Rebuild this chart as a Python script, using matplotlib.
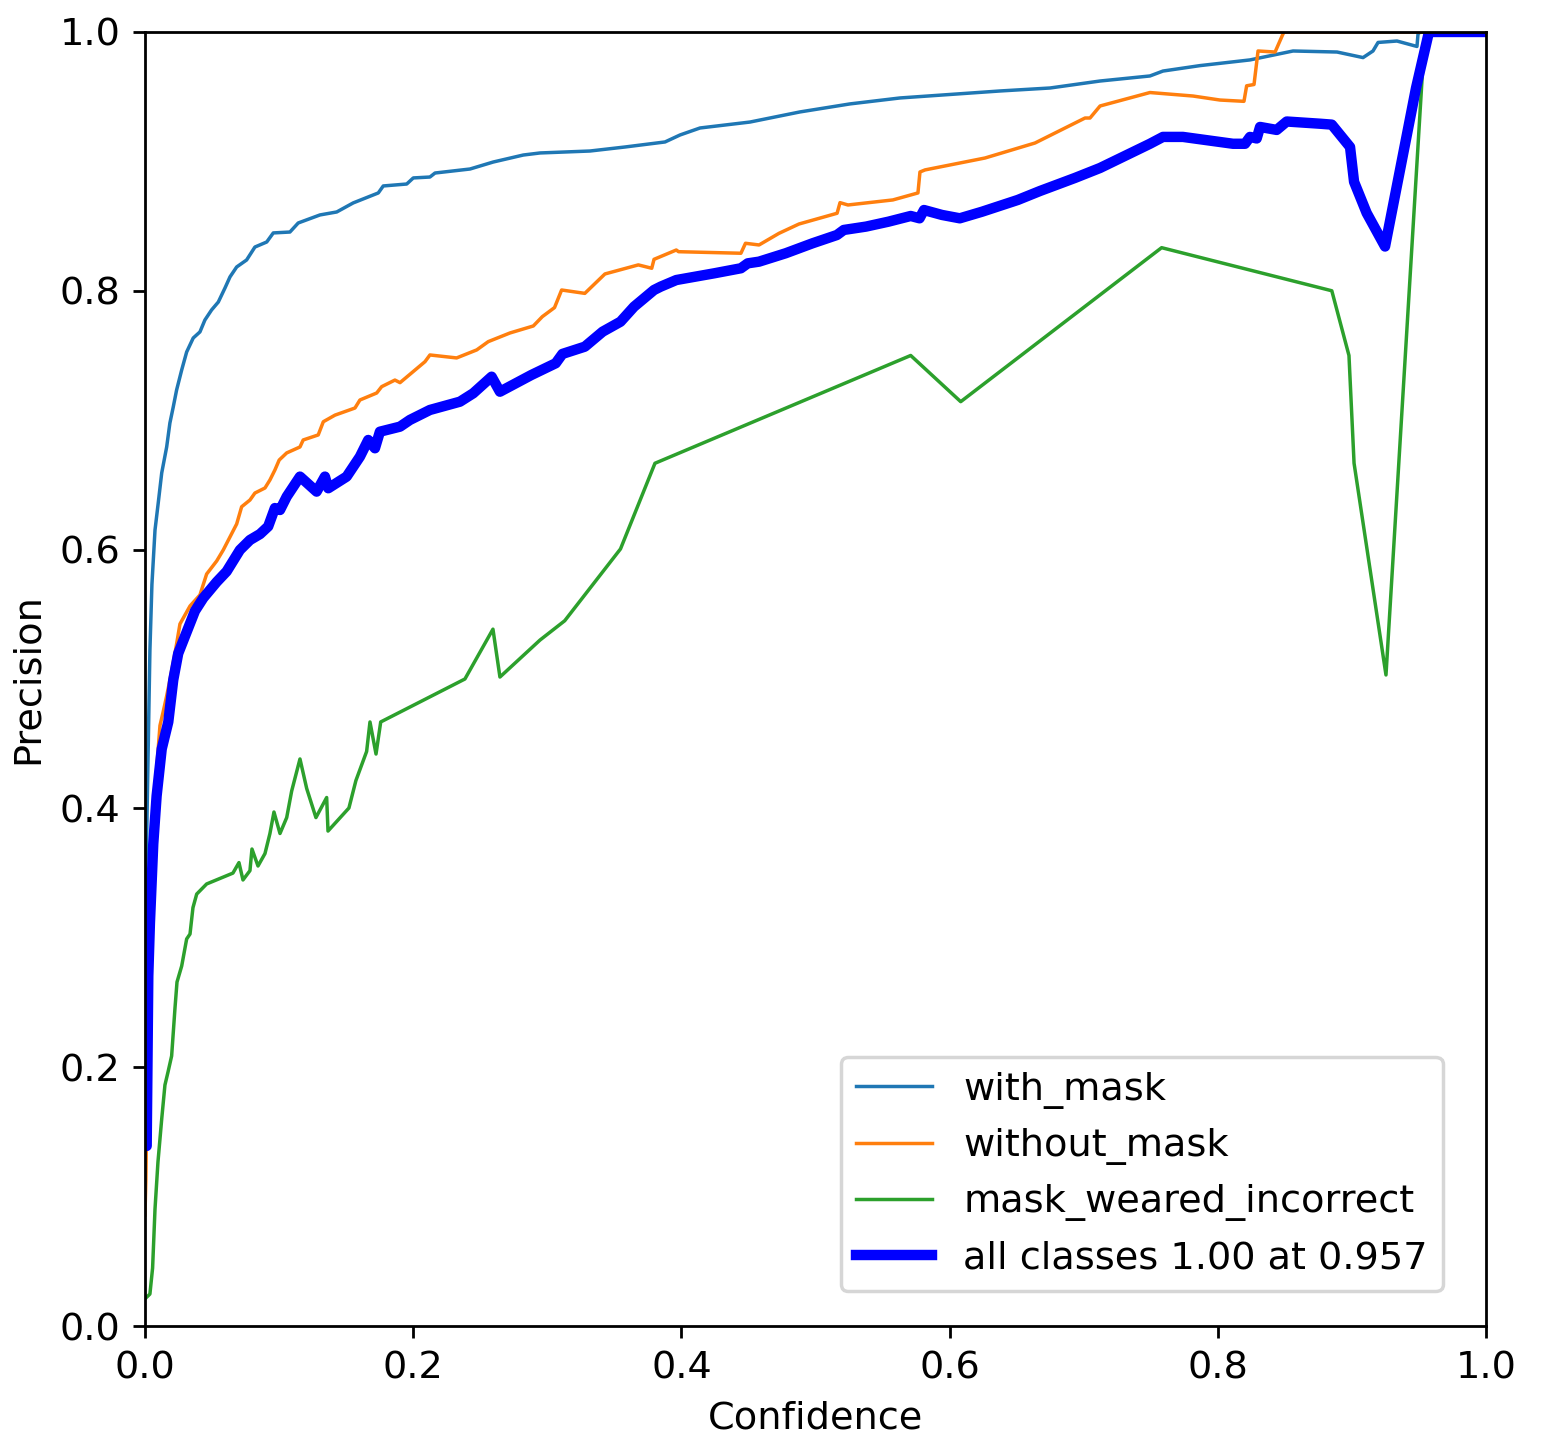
import matplotlib
matplotlib.use("Agg")
import matplotlib.pyplot as plt

# confidence / precision pairs
with_mask_conf = [0, 0.0015, 0.0037, 0.0052, 0.0075, 0.0099, 0.0125, 0.0162, 0.0186, 0.0211, 0.0236,
                  0.0274, 0.0311, 0.036, 0.041, 0.0447, 0.0497, 0.0547, 0.0597, 0.0634, 0.0684, 0.0758,
                  0.082, 0.0908, 0.0957, 0.1081, 0.1143, 0.1305, 0.143, 0.1553, 0.174, 0.1777, 0.1952,
                  0.2001, 0.2125, 0.2163, 0.2424, 0.2597, 0.2821, 0.2946, 0.3318, 0.3579, 0.3878, 0.399,
                  0.4139, 0.4512, 0.4884, 0.5257, 0.563, 0.6376, 0.6749, 0.7122, 0.7494, 0.7591, 0.7867,
                  0.824, 0.8561, 0.8889, 0.9083, 0.9157, 0.9195, 0.9336, 0.9485, 0.9493, 0.951, 1.0]
with_mask_prec = [0.3138, 0.391, 0.522, 0.573, 0.6151, 0.636, 0.6592, 0.6793, 0.6978, 0.7102, 0.7233,
                  0.7388, 0.7527, 0.7635, 0.7682, 0.7774, 0.7852, 0.7913, 0.8022, 0.8107, 0.8184, 0.8238,
                  0.8338, 0.8377, 0.8447, 0.8454, 0.8524, 0.8586, 0.8609, 0.8679, 0.8756, 0.881, 0.8825,
                  0.8872, 0.8879, 0.891, 0.8941, 0.8995, 0.9049, 0.9065, 0.908, 0.9111, 0.915, 0.9204,
                  0.9258, 0.9304, 0.9382, 0.9444, 0.949, 0.9544, 0.9567, 0.9621, 0.966, 0.9698, 0.974,
                  0.9784, 0.9853, 0.9845, 0.9802, 0.9853, 0.9919, 0.993, 0.9888, 0.9985, 1.0, 1.0]

without_mask_conf = [0, 0.0007, 0.0015, 0.0025, 0.0037, 0.0062, 0.0087, 0.0112, 0.0136, 0.0162, 0.0186,
                     0.0231, 0.0261, 0.0336, 0.041, 0.046, 0.0535, 0.0584, 0.0684, 0.0721, 0.0783, 0.082,
                     0.0895, 0.0932, 0.0969, 0.1001, 0.1057, 0.1156, 0.118, 0.1292, 0.133, 0.1417, 0.1566,
                     0.1603, 0.1728, 0.1765, 0.1864, 0.1902, 0.2088, 0.2125, 0.2324, 0.2474, 0.256, 0.2722,
                     0.2896, 0.2963, 0.3054, 0.3107, 0.328, 0.343, 0.3679, 0.3779, 0.3796, 0.3962, 0.3979,
                     0.4444, 0.4478, 0.4579, 0.4728, 0.4877, 0.5161, 0.5183, 0.5242, 0.5577, 0.5764, 0.5779,
                     0.5817, 0.6264, 0.6637, 0.701, 0.7047, 0.7122, 0.7494, 0.7815, 0.8016, 0.8195, 0.8215,
                     0.827, 0.83, 0.8427, 0.8484, 0.8494, 1.0]
without_mask_prec = [0.0858, 0.113, 0.175, 0.27, 0.329, 0.383, 0.43, 0.464, 0.4747, 0.4869, 0.4992,
                     0.524, 0.5425, 0.5564, 0.5649, 0.5811, 0.5912, 0.5997, 0.6198, 0.6331, 0.6383, 0.6437,
                     0.6476, 0.6538, 0.6615, 0.6692, 0.6747, 0.6793, 0.6847, 0.6886, 0.6988, 0.7039, 0.7094,
                     0.7156, 0.721, 0.7259, 0.731, 0.729, 0.7452, 0.7504, 0.7481, 0.7543, 0.7607, 0.7674,
                     0.7728, 0.78, 0.787, 0.8006, 0.798, 0.813, 0.82, 0.8174, 0.8243, 0.8315, 0.8302,
                     0.829, 0.8367, 0.8354, 0.8444, 0.8516, 0.8599, 0.8681, 0.8663, 0.8702, 0.8756, 0.8918,
                     0.8934, 0.9026, 0.9142, 0.9335, 0.9335, 0.9428, 0.9532, 0.9505, 0.9474, 0.9464, 0.9584,
                     0.9594, 0.9853, 0.9845, 0.998, 1.0, 1.0]

incorrect_conf = [0, 0.0037, 0.0057, 0.0075, 0.0097, 0.0125, 0.0149, 0.0172, 0.0199, 0.0224, 0.0239,
                  0.0274, 0.0311, 0.0336, 0.0358, 0.0386, 0.046, 0.0656, 0.0701, 0.0731, 0.0783, 0.0798,
                  0.0843, 0.0895, 0.0932, 0.0962, 0.1007, 0.1057, 0.1094, 0.1156, 0.1206, 0.1275, 0.1355,
                  0.1365, 0.1521, 0.1573, 0.1653, 0.1678, 0.1723, 0.1758, 0.2386, 0.2595, 0.2647, 0.2946,
                  0.313, 0.3546, 0.3803, 0.571, 0.6083, 0.7581, 0.885, 0.8978, 0.9016, 0.9254, 0.953,
                  0.956, 1.0]
incorrect_prec = [0.021, 0.0247, 0.0448, 0.0904, 0.1267, 0.16, 0.1862, 0.1963, 0.2087, 0.2457, 0.2658,
                  0.2782, 0.2991, 0.3029, 0.3233, 0.3338, 0.3416, 0.35, 0.3581, 0.3447, 0.3519, 0.3686,
                  0.3555, 0.3651, 0.3806, 0.3972, 0.3806, 0.3929, 0.4134, 0.4382, 0.4154, 0.3929, 0.4084,
                  0.3825, 0.4003, 0.4215, 0.444, 0.4668, 0.442, 0.4668, 0.5, 0.5385, 0.5015, 0.5301,
                  0.545, 0.6005, 0.6667, 0.75, 0.7143, 0.8333, 0.8, 0.75, 0.6667, 0.5031, 0.9757,
                  1.0, 1.0]

all_conf = [0, 0.0013, 0.0025, 0.0037, 0.0062, 0.0087, 0.0125, 0.0174, 0.0211, 0.0248, 0.0311, 0.0373,
            0.0435, 0.0535, 0.0609, 0.0708, 0.0783, 0.0858, 0.0919, 0.0969, 0.1007, 0.1057, 0.1156, 0.128,
            0.1342, 0.1367, 0.1504, 0.1603, 0.1665, 0.1715, 0.1752, 0.1902, 0.1976, 0.2125, 0.2349, 0.2448,
            0.2585, 0.2647, 0.2881, 0.3063, 0.3113, 0.328, 0.3413, 0.3546, 0.3647, 0.3796, 0.3846, 0.3962,
            0.4245, 0.4444, 0.4495, 0.4579, 0.4778, 0.4978, 0.516, 0.5211, 0.5377, 0.5544, 0.571, 0.5776,
            0.5809, 0.5943, 0.6076, 0.6242, 0.6509, 0.6674, 0.6935, 0.7122, 0.7494, 0.7591, 0.774, 0.8113,
            0.8203, 0.824, 0.829, 0.8315, 0.8439, 0.8514, 0.8762, 0.885, 0.8986, 0.9016, 0.911, 0.9247,
            0.9478, 0.957, 0.9582, 1.0]
all_prec = [0.14, 0.1391, 0.2705, 0.311, 0.3725, 0.4096, 0.4459, 0.4668, 0.4992, 0.5197, 0.5363, 0.5526,
            0.5626, 0.575, 0.5831, 0.5997, 0.6074, 0.612, 0.6179, 0.6321, 0.6306, 0.6409, 0.6564, 0.6448,
            0.6564, 0.6474, 0.6564, 0.6718, 0.6847, 0.6783, 0.6911, 0.695, 0.7002, 0.7079, 0.7143, 0.7208,
            0.7336, 0.722, 0.7349, 0.744, 0.7512, 0.7568, 0.7684, 0.7761, 0.7877, 0.8006, 0.8032, 0.8083,
            0.8135, 0.8174, 0.8212, 0.8225, 0.829, 0.8367, 0.8431, 0.847, 0.8496, 0.8534, 0.8578, 0.856,
            0.8624, 0.8586, 0.856, 0.8611, 0.8702, 0.8771, 0.8872, 0.8949, 0.9136, 0.9189, 0.9189, 0.9136,
            0.9136, 0.9189, 0.9177, 0.9266, 0.9243, 0.9308, 0.9291, 0.9284, 0.9111, 0.8842, 0.8601, 0.8342,
            0.9567, 0.998, 1.0, 1.0]

best_conf = 0.957
best_prec = 1.00

fig = plt.figure(figsize=(6.168, 5.812), dpi=250)
ax = fig.add_axes([0.094, 0.0874, 0.8697, 0.8906])

ax.plot(with_mask_conf, with_mask_prec, linewidth=1, label="with_mask")
ax.plot(without_mask_conf, without_mask_prec, linewidth=1, label="without_mask")
ax.plot(incorrect_conf, incorrect_prec, linewidth=1, label="mask_weared_incorrect")
ax.plot(all_conf, all_prec, linewidth=3, color="blue",
        label=f"all classes {best_prec:.2f} at {best_conf:.3f}")

ax.set_xlabel("Confidence", fontsize=11)
ax.set_ylabel("Precision", fontsize=11)
ax.set_xlim(0, 1)
ax.set_ylim(0, 1)
ax.tick_params(labelsize=11)
ax.legend(loc="lower right", bbox_to_anchor=(0.982, 0.012), fontsize=11)

fig.savefig("out.png", dpi=250)
